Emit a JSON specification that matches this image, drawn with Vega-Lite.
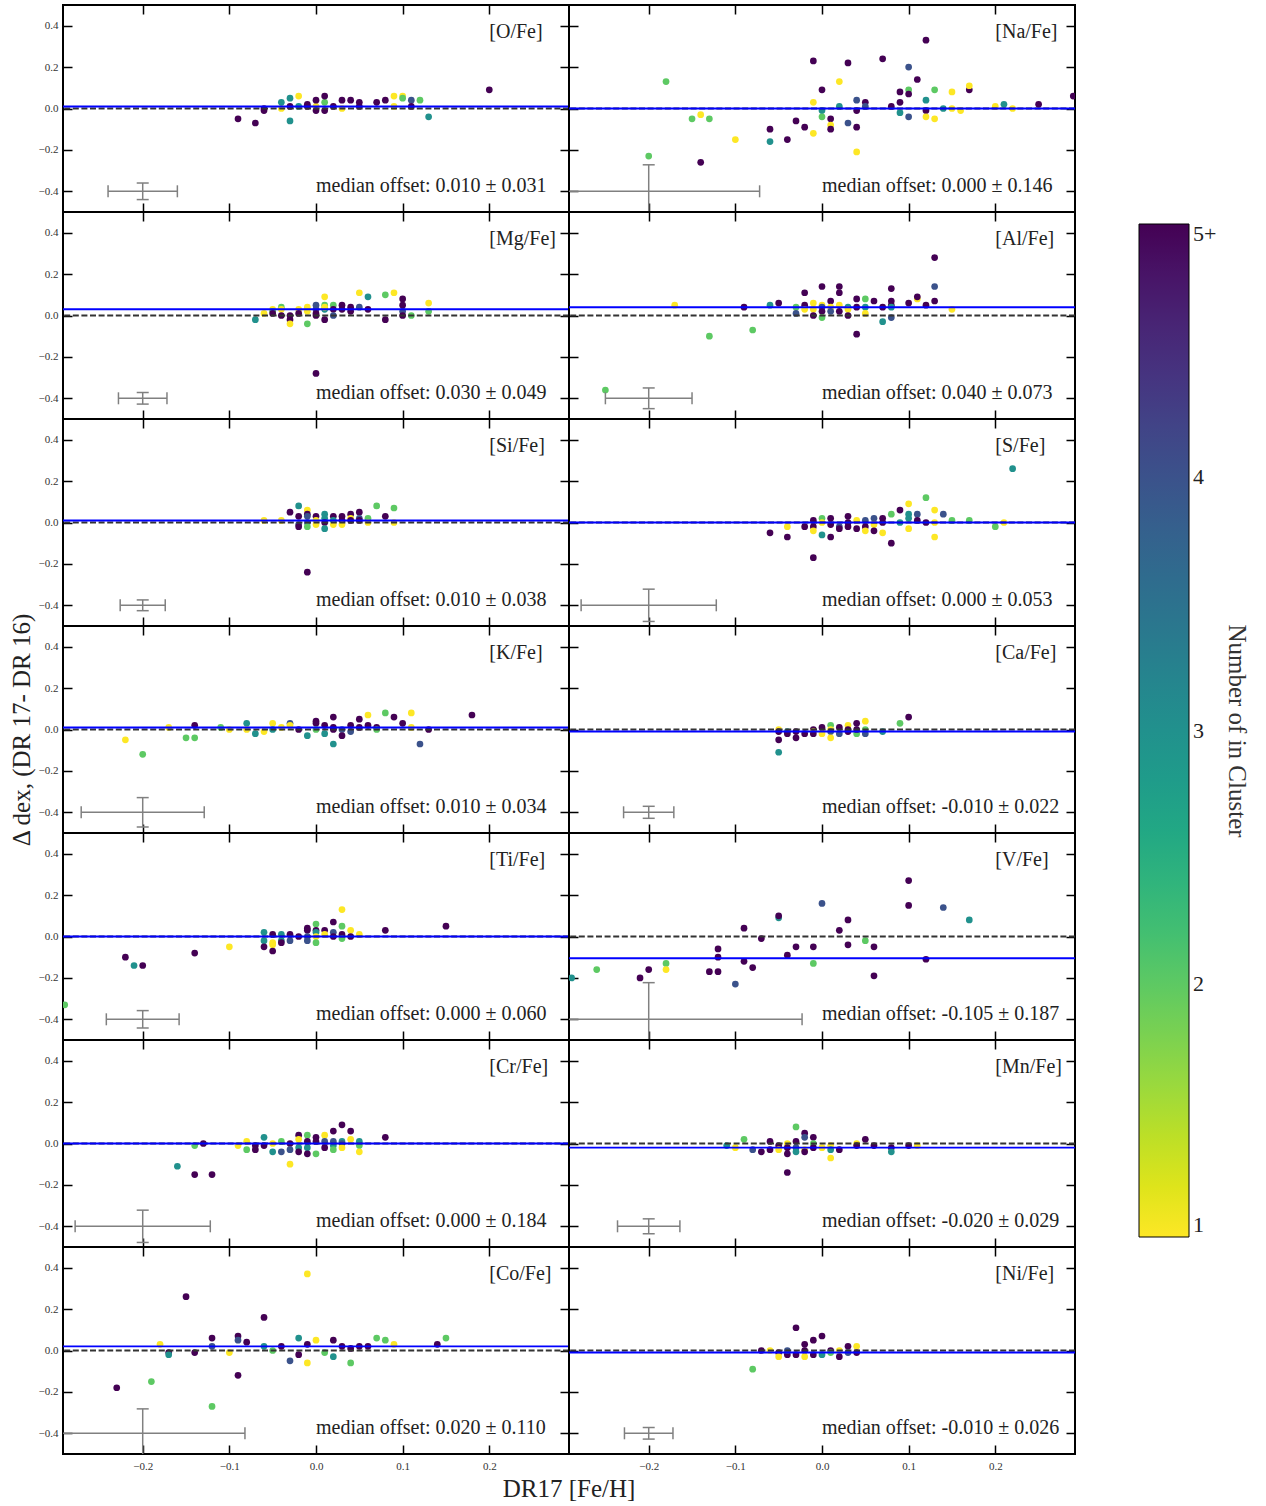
{
  "$schema": "https://vega.github.io/schema/vega-lite/v6.json",
  "padding": {"left": 9, "top": 4, "right": 0, "bottom": 0},
  "datasets": {
    "abund": [
      {"e":"O","lab":"[O/Fe]","med":0.010,"sd":0.031,"xlo":-0.24,"xhi":-0.16,"ylo":-0.44,"yhi":-0.36},
      {"e":"Na","lab":"[Na/Fe]","med":0.000,"sd":0.146,"xlo":-0.328,"xhi":-0.072,"ylo":-0.528,"yhi":-0.272},
      {"e":"Mg","lab":"[Mg/Fe]","med":0.030,"sd":0.049,"xlo":-0.228,"xhi":-0.172,"ylo":-0.428,"yhi":-0.372},
      {"e":"Al","lab":"[Al/Fe]","med":0.040,"sd":0.073,"xlo":-0.25,"xhi":-0.15,"ylo":-0.45,"yhi":-0.35},
      {"e":"Si","lab":"[Si/Fe]","med":0.010,"sd":0.038,"xlo":-0.226,"xhi":-0.174,"ylo":-0.426,"yhi":-0.374},
      {"e":"S","lab":"[S/Fe]","med":0.000,"sd":0.053,"xlo":-0.278,"xhi":-0.122,"ylo":-0.478,"yhi":-0.322},
      {"e":"K","lab":"[K/Fe]","med":0.010,"sd":0.034,"xlo":-0.271,"xhi":-0.129,"ylo":-0.471,"yhi":-0.329},
      {"e":"Ca","lab":"[Ca/Fe]","med":-0.010,"sd":0.022,"xlo":-0.229,"xhi":-0.171,"ylo":-0.429,"yhi":-0.371},
      {"e":"Ti","lab":"[Ti/Fe]","med":0.000,"sd":0.060,"xlo":-0.242,"xhi":-0.158,"ylo":-0.442,"yhi":-0.358},
      {"e":"V","lab":"[V/Fe]","med":-0.105,"sd":0.187,"xlo":-0.377,"xhi":-0.023,"ylo":-0.577,"yhi":-0.223},
      {"e":"Cr","lab":"[Cr/Fe]","med":0.000,"sd":0.184,"xlo":-0.278,"xhi":-0.122,"ylo":-0.478,"yhi":-0.322},
      {"e":"Mn","lab":"[Mn/Fe]","med":-0.020,"sd":0.029,"xlo":-0.236,"xhi":-0.164,"ylo":-0.436,"yhi":-0.364},
      {"e":"Co","lab":"[Co/Fe]","med":0.020,"sd":0.110,"xlo":-0.318,"xhi":-0.082,"ylo":-0.518,"yhi":-0.282},
      {"e":"Ni","lab":"[Ni/Fe]","med":-0.010,"sd":0.026,"xlo":-0.228,"xhi":-0.172,"ylo":-0.428,"yhi":-0.372},

      {"e":"O","x":-0.09,"y":-0.05,"n":5},{"e":"O","x":-0.07,"y":-0.07,"n":5},{"e":"O","x":-0.06,"y":-0.01,"n":5},{"e":"O","x":-0.06,"y":0.0,"n":5},
      {"e":"O","x":-0.04,"y":0.0,"n":1},{"e":"O","x":-0.04,"y":0.03,"n":3},{"e":"O","x":-0.03,"y":0.05,"n":3},{"e":"O","x":-0.03,"y":-0.06,"n":3},
      {"e":"O","x":-0.03,"y":0.01,"n":5},{"e":"O","x":-0.02,"y":0.06,"n":1},{"e":"O","x":-0.02,"y":0.01,"n":3},{"e":"O","x":-0.01,"y":0.01,"n":5},
      {"e":"O","x":-0.01,"y":0.02,"n":5},{"e":"O","x":0.0,"y":0.01,"n":1},{"e":"O","x":0.0,"y":0.04,"n":5},{"e":"O","x":0.0,"y":-0.01,"n":5},
      {"e":"O","x":0.01,"y":0.03,"n":2},{"e":"O","x":0.01,"y":0.06,"n":5},{"e":"O","x":0.01,"y":-0.01,"n":5},{"e":"O","x":0.02,"y":0.01,"n":5},
      {"e":"O","x":0.03,"y":0.0,"n":1},{"e":"O","x":0.03,"y":0.04,"n":5},{"e":"O","x":0.04,"y":0.04,"n":5},{"e":"O","x":0.05,"y":0.03,"n":5},
      {"e":"O","x":0.05,"y":0.01,"n":5},{"e":"O","x":0.07,"y":0.03,"n":5},{"e":"O","x":0.08,"y":0.04,"n":5},{"e":"O","x":0.09,"y":0.01,"n":1},
      {"e":"O","x":0.09,"y":0.06,"n":1},{"e":"O","x":0.1,"y":0.06,"n":1},{"e":"O","x":0.1,"y":0.05,"n":2},{"e":"O","x":0.11,"y":0.04,"n":4},
      {"e":"O","x":0.11,"y":0.01,"n":5},{"e":"O","x":0.12,"y":0.04,"n":2},{"e":"O","x":0.13,"y":-0.04,"n":3},{"e":"O","x":0.2,"y":0.09,"n":5},

      {"e":"Na","x":-0.18,"y":0.13,"n":2},{"e":"Na","x":-0.2,"y":-0.23,"n":2},{"e":"Na","x":-0.15,"y":-0.05,"n":2},{"e":"Na","x":-0.14,"y":-0.03,"n":1},
      {"e":"Na","x":-0.13,"y":-0.05,"n":2},{"e":"Na","x":-0.14,"y":-0.26,"n":5},{"e":"Na","x":-0.1,"y":-0.15,"n":1},{"e":"Na","x":-0.06,"y":-0.10,"n":5},
      {"e":"Na","x":-0.06,"y":-0.16,"n":3},{"e":"Na","x":-0.04,"y":-0.15,"n":5},{"e":"Na","x":-0.03,"y":-0.06,"n":5},{"e":"Na","x":-0.02,"y":-0.09,"n":5},
      {"e":"Na","x":-0.01,"y":0.23,"n":5},{"e":"Na","x":-0.01,"y":0.03,"n":1},{"e":"Na","x":-0.01,"y":-0.12,"n":1},{"e":"Na","x":0.0,"y":0.09,"n":5},
      {"e":"Na","x":0.0,"y":-0.01,"n":3},{"e":"Na","x":0.0,"y":-0.04,"n":2},{"e":"Na","x":0.01,"y":-0.05,"n":5},{"e":"Na","x":0.01,"y":-0.08,"n":1},
      {"e":"Na","x":0.01,"y":-0.10,"n":5},{"e":"Na","x":0.02,"y":0.13,"n":1},{"e":"Na","x":0.02,"y":0.01,"n":3},{"e":"Na","x":0.03,"y":0.22,"n":5},
      {"e":"Na","x":0.03,"y":-0.07,"n":4},{"e":"Na","x":0.04,"y":0.04,"n":4},{"e":"Na","x":0.04,"y":-0.01,"n":5},{"e":"Na","x":0.04,"y":-0.09,"n":5},
      {"e":"Na","x":0.04,"y":-0.21,"n":1},{"e":"Na","x":0.05,"y":0.03,"n":5},{"e":"Na","x":0.05,"y":0.01,"n":4},{"e":"Na","x":0.07,"y":0.24,"n":5},
      {"e":"Na","x":0.08,"y":0.01,"n":5},{"e":"Na","x":0.09,"y":0.08,"n":5},{"e":"Na","x":0.09,"y":0.03,"n":5},{"e":"Na","x":0.09,"y":-0.02,"n":3},
      {"e":"Na","x":0.1,"y":0.2,"n":4},{"e":"Na","x":0.1,"y":0.09,"n":2},{"e":"Na","x":0.1,"y":0.07,"n":5},{"e":"Na","x":0.1,"y":-0.04,"n":4},
      {"e":"Na","x":0.11,"y":0.14,"n":5},{"e":"Na","x":0.12,"y":0.33,"n":5},{"e":"Na","x":0.12,"y":0.04,"n":3},{"e":"Na","x":0.12,"y":-0.01,"n":5},
      {"e":"Na","x":0.12,"y":-0.04,"n":1},{"e":"Na","x":0.13,"y":0.09,"n":2},{"e":"Na","x":0.13,"y":-0.05,"n":1},{"e":"Na","x":0.14,"y":0.0,"n":3},
      {"e":"Na","x":0.15,"y":0.08,"n":1},{"e":"Na","x":0.15,"y":0.0,"n":1},{"e":"Na","x":0.16,"y":-0.01,"n":1},{"e":"Na","x":0.17,"y":0.09,"n":5},
      {"e":"Na","x":0.17,"y":0.11,"n":1},{"e":"Na","x":0.2,"y":0.01,"n":1},{"e":"Na","x":0.21,"y":0.02,"n":3},{"e":"Na","x":0.22,"y":0.0,"n":1},
      {"e":"Na","x":0.25,"y":0.02,"n":5},{"e":"Na","x":0.29,"y":0.06,"n":5},

      {"e":"Mg","x":-0.07,"y":-0.02,"n":3},{"e":"Mg","x":-0.06,"y":0.01,"n":1},{"e":"Mg","x":-0.05,"y":0.03,"n":1},{"e":"Mg","x":-0.05,"y":0.02,"n":2},
      {"e":"Mg","x":-0.05,"y":0.01,"n":5},{"e":"Mg","x":-0.04,"y":0.04,"n":2},{"e":"Mg","x":-0.04,"y":0.03,"n":1},{"e":"Mg","x":-0.04,"y":0.0,"n":5},
      {"e":"Mg","x":-0.03,"y":0.0,"n":5},{"e":"Mg","x":-0.03,"y":-0.02,"n":5},{"e":"Mg","x":-0.03,"y":-0.04,"n":1},{"e":"Mg","x":-0.02,"y":0.03,"n":1},
      {"e":"Mg","x":-0.02,"y":0.01,"n":5},{"e":"Mg","x":-0.01,"y":0.04,"n":1},{"e":"Mg","x":-0.01,"y":0.02,"n":1},{"e":"Mg","x":-0.01,"y":-0.04,"n":2},
      {"e":"Mg","x":0.0,"y":0.05,"n":4},{"e":"Mg","x":0.0,"y":0.03,"n":4},{"e":"Mg","x":0.0,"y":0.01,"n":5},{"e":"Mg","x":0.0,"y":0.0,"n":5},
      {"e":"Mg","x":0.0,"y":-0.28,"n":5},{"e":"Mg","x":0.01,"y":0.09,"n":1},{"e":"Mg","x":0.01,"y":0.05,"n":2},{"e":"Mg","x":0.01,"y":0.03,"n":3},
      {"e":"Mg","x":0.01,"y":0.04,"n":1},{"e":"Mg","x":0.01,"y":-0.02,"n":5},{"e":"Mg","x":0.02,"y":0.05,"n":2},{"e":"Mg","x":0.02,"y":0.03,"n":5},
      {"e":"Mg","x":0.02,"y":0.0,"n":4},{"e":"Mg","x":0.03,"y":0.05,"n":5},{"e":"Mg","x":0.03,"y":0.03,"n":5},{"e":"Mg","x":0.04,"y":0.04,"n":5},
      {"e":"Mg","x":0.04,"y":0.02,"n":5},{"e":"Mg","x":0.05,"y":0.11,"n":1},{"e":"Mg","x":0.05,"y":0.04,"n":4},{"e":"Mg","x":0.06,"y":0.09,"n":3},
      {"e":"Mg","x":0.06,"y":0.03,"n":5},{"e":"Mg","x":0.08,"y":0.1,"n":2},{"e":"Mg","x":0.08,"y":-0.02,"n":5},{"e":"Mg","x":0.09,"y":0.11,"n":1},
      {"e":"Mg","x":0.1,"y":0.02,"n":4},{"e":"Mg","x":0.1,"y":0.08,"n":5},{"e":"Mg","x":0.1,"y":0.05,"n":5},{"e":"Mg","x":0.1,"y":0.0,"n":5},
      {"e":"Mg","x":0.11,"y":0.0,"n":2},{"e":"Mg","x":0.13,"y":0.06,"n":1},{"e":"Mg","x":0.13,"y":0.02,"n":2},

      {"e":"Al","x":-0.25,"y":-0.36,"n":2},{"e":"Al","x":-0.17,"y":0.05,"n":1},{"e":"Al","x":-0.13,"y":-0.10,"n":2},{"e":"Al","x":-0.09,"y":0.04,"n":5},
      {"e":"Al","x":-0.08,"y":-0.07,"n":2},{"e":"Al","x":-0.06,"y":0.05,"n":3},{"e":"Al","x":-0.05,"y":0.06,"n":5},{"e":"Al","x":-0.03,"y":0.04,"n":2},
      {"e":"Al","x":-0.03,"y":0.01,"n":4},{"e":"Al","x":-0.02,"y":0.11,"n":5},{"e":"Al","x":-0.02,"y":0.05,"n":5},{"e":"Al","x":-0.02,"y":0.03,"n":1},
      {"e":"Al","x":-0.01,"y":0.06,"n":1},{"e":"Al","x":-0.01,"y":0.03,"n":1},{"e":"Al","x":-0.01,"y":0.0,"n":5},{"e":"Al","x":0.0,"y":0.14,"n":5},
      {"e":"Al","x":0.0,"y":0.05,"n":1},{"e":"Al","x":0.0,"y":0.04,"n":4},{"e":"Al","x":0.0,"y":0.02,"n":5},{"e":"Al","x":0.0,"y":-0.01,"n":2},
      {"e":"Al","x":0.01,"y":0.07,"n":5},{"e":"Al","x":0.01,"y":0.04,"n":1},{"e":"Al","x":0.01,"y":0.02,"n":4},{"e":"Al","x":0.02,"y":0.14,"n":5},
      {"e":"Al","x":0.02,"y":0.11,"n":5},{"e":"Al","x":0.02,"y":0.05,"n":1},{"e":"Al","x":0.02,"y":0.02,"n":5},{"e":"Al","x":0.03,"y":0.04,"n":3},
      {"e":"Al","x":0.03,"y":0.03,"n":1},{"e":"Al","x":0.03,"y":0.0,"n":5},{"e":"Al","x":0.04,"y":0.08,"n":5},{"e":"Al","x":0.04,"y":0.04,"n":5},
      {"e":"Al","x":0.04,"y":-0.09,"n":5},{"e":"Al","x":0.05,"y":0.08,"n":2},{"e":"Al","x":0.05,"y":0.04,"n":3},{"e":"Al","x":0.05,"y":0.01,"n":1},
      {"e":"Al","x":0.06,"y":0.07,"n":5},{"e":"Al","x":0.07,"y":0.04,"n":5},{"e":"Al","x":0.07,"y":-0.03,"n":3},{"e":"Al","x":0.08,"y":0.13,"n":5},
      {"e":"Al","x":0.08,"y":0.07,"n":5},{"e":"Al","x":0.08,"y":0.05,"n":5},{"e":"Al","x":0.08,"y":0.04,"n":3},{"e":"Al","x":0.08,"y":-0.01,"n":4},
      {"e":"Al","x":0.1,"y":0.06,"n":5},{"e":"Al","x":0.11,"y":0.08,"n":1},{"e":"Al","x":0.11,"y":0.09,"n":5},{"e":"Al","x":0.12,"y":0.05,"n":5},
      {"e":"Al","x":0.13,"y":0.28,"n":5},{"e":"Al","x":0.13,"y":0.14,"n":4},{"e":"Al","x":0.13,"y":0.07,"n":5},{"e":"Al","x":0.15,"y":0.03,"n":1},

      {"e":"Si","x":-0.06,"y":0.01,"n":1},{"e":"Si","x":-0.04,"y":0.01,"n":1},{"e":"Si","x":-0.03,"y":0.05,"n":5},{"e":"Si","x":-0.02,"y":0.08,"n":3},
      {"e":"Si","x":-0.02,"y":0.03,"n":5},{"e":"Si","x":-0.02,"y":-0.01,"n":4},{"e":"Si","x":-0.02,"y":-0.02,"n":5},{"e":"Si","x":-0.01,"y":0.06,"n":1},
      {"e":"Si","x":-0.01,"y":0.04,"n":5},{"e":"Si","x":-0.01,"y":0.03,"n":4},{"e":"Si","x":-0.01,"y":0.0,"n":4},{"e":"Si","x":-0.01,"y":-0.02,"n":2},
      {"e":"Si","x":-0.01,"y":-0.24,"n":5},{"e":"Si","x":0.0,"y":0.03,"n":5},{"e":"Si","x":0.0,"y":0.01,"n":1},{"e":"Si","x":0.0,"y":-0.01,"n":1},
      {"e":"Si","x":0.01,"y":0.04,"n":3},{"e":"Si","x":0.01,"y":0.02,"n":3},{"e":"Si","x":0.01,"y":0.0,"n":5},{"e":"Si","x":0.01,"y":-0.03,"n":3},
      {"e":"Si","x":0.02,"y":0.03,"n":5},{"e":"Si","x":0.02,"y":0.01,"n":3},{"e":"Si","x":0.02,"y":-0.01,"n":1},{"e":"Si","x":0.03,"y":0.03,"n":5},
      {"e":"Si","x":0.03,"y":0.01,"n":5},{"e":"Si","x":0.03,"y":-0.01,"n":1},{"e":"Si","x":0.04,"y":0.04,"n":5},{"e":"Si","x":0.04,"y":0.02,"n":1},
      {"e":"Si","x":0.04,"y":0.01,"n":5},{"e":"Si","x":0.05,"y":0.05,"n":5},{"e":"Si","x":0.05,"y":0.02,"n":4},{"e":"Si","x":0.05,"y":0.01,"n":5},
      {"e":"Si","x":0.06,"y":0.02,"n":2},{"e":"Si","x":0.06,"y":0.0,"n":1},{"e":"Si","x":0.07,"y":0.08,"n":2},{"e":"Si","x":0.08,"y":0.03,"n":5},
      {"e":"Si","x":0.09,"y":0.07,"n":2},{"e":"Si","x":0.09,"y":0.0,"n":1},

      {"e":"S","x":-0.06,"y":-0.05,"n":5},{"e":"S","x":-0.04,"y":-0.02,"n":1},{"e":"S","x":-0.04,"y":-0.07,"n":5},{"e":"S","x":-0.02,"y":-0.02,"n":5},
      {"e":"S","x":-0.01,"y":0.01,"n":5},{"e":"S","x":-0.01,"y":-0.02,"n":5},{"e":"S","x":-0.01,"y":-0.04,"n":1},{"e":"S","x":-0.01,"y":-0.17,"n":5},
      {"e":"S","x":0.0,"y":0.02,"n":2},{"e":"S","x":0.0,"y":0.0,"n":1},{"e":"S","x":0.0,"y":-0.06,"n":3},{"e":"S","x":0.01,"y":0.02,"n":5},
      {"e":"S","x":0.01,"y":-0.01,"n":5},{"e":"S","x":0.01,"y":-0.07,"n":5},{"e":"S","x":0.02,"y":-0.02,"n":4},{"e":"S","x":0.02,"y":-0.03,"n":5},
      {"e":"S","x":0.03,"y":0.03,"n":5},{"e":"S","x":0.03,"y":0.0,"n":5},{"e":"S","x":0.03,"y":-0.02,"n":5},{"e":"S","x":0.04,"y":0.01,"n":1},
      {"e":"S","x":0.04,"y":-0.03,"n":5},{"e":"S","x":0.05,"y":0.01,"n":4},{"e":"S","x":0.05,"y":-0.02,"n":5},{"e":"S","x":0.05,"y":-0.04,"n":1},
      {"e":"S","x":0.06,"y":0.02,"n":4},{"e":"S","x":0.06,"y":-0.01,"n":1},{"e":"S","x":0.06,"y":-0.04,"n":5},{"e":"S","x":0.07,"y":0.02,"n":5},
      {"e":"S","x":0.07,"y":0.0,"n":5},{"e":"S","x":0.07,"y":-0.05,"n":1},{"e":"S","x":0.08,"y":0.04,"n":2},{"e":"S","x":0.08,"y":-0.1,"n":5},
      {"e":"S","x":0.09,"y":0.06,"n":5},{"e":"S","x":0.09,"y":0.0,"n":3},{"e":"S","x":0.1,"y":0.09,"n":1},{"e":"S","x":0.1,"y":0.04,"n":3},
      {"e":"S","x":0.1,"y":0.02,"n":3},{"e":"S","x":0.1,"y":-0.03,"n":1},{"e":"S","x":0.11,"y":0.04,"n":4},{"e":"S","x":0.11,"y":0.01,"n":5},
      {"e":"S","x":0.12,"y":0.12,"n":2},{"e":"S","x":0.12,"y":0.0,"n":5},{"e":"S","x":0.13,"y":0.06,"n":1},{"e":"S","x":0.13,"y":0.0,"n":1},
      {"e":"S","x":0.13,"y":-0.07,"n":1},{"e":"S","x":0.14,"y":0.04,"n":4},{"e":"S","x":0.15,"y":0.01,"n":2},{"e":"S","x":0.17,"y":0.01,"n":2},
      {"e":"S","x":0.2,"y":-0.02,"n":2},{"e":"S","x":0.21,"y":0.0,"n":1},{"e":"S","x":0.22,"y":0.26,"n":3},

      {"e":"K","x":-0.22,"y":-0.05,"n":1},{"e":"K","x":-0.2,"y":-0.12,"n":2},{"e":"K","x":-0.17,"y":0.01,"n":1},{"e":"K","x":-0.15,"y":-0.04,"n":2},
      {"e":"K","x":-0.14,"y":-0.04,"n":2},{"e":"K","x":-0.14,"y":0.02,"n":5},{"e":"K","x":-0.11,"y":0.01,"n":2},{"e":"K","x":-0.1,"y":0.0,"n":1},
      {"e":"K","x":-0.08,"y":0.03,"n":3},{"e":"K","x":-0.08,"y":0.0,"n":1},{"e":"K","x":-0.07,"y":-0.02,"n":3},{"e":"K","x":-0.06,"y":-0.01,"n":1},
      {"e":"K","x":-0.05,"y":0.03,"n":1},{"e":"K","x":-0.05,"y":0.0,"n":3},{"e":"K","x":-0.04,"y":0.01,"n":1},{"e":"K","x":-0.03,"y":0.03,"n":4},
      {"e":"K","x":-0.03,"y":0.02,"n":1},{"e":"K","x":-0.02,"y":0.0,"n":5},{"e":"K","x":-0.01,"y":-0.03,"n":3},{"e":"K","x":0.0,"y":0.04,"n":5},
      {"e":"K","x":0.0,"y":0.03,"n":5},{"e":"K","x":0.0,"y":0.0,"n":2},{"e":"K","x":0.01,"y":0.02,"n":5},{"e":"K","x":0.01,"y":-0.02,"n":3},
      {"e":"K","x":0.02,"y":0.06,"n":5},{"e":"K","x":0.02,"y":0.01,"n":5},{"e":"K","x":0.02,"y":0.0,"n":5},{"e":"K","x":0.02,"y":-0.07,"n":3},
      {"e":"K","x":0.03,"y":0.0,"n":4},{"e":"K","x":0.03,"y":-0.03,"n":5},{"e":"K","x":0.04,"y":0.02,"n":5},{"e":"K","x":0.04,"y":-0.01,"n":4},
      {"e":"K","x":0.05,"y":0.05,"n":5},{"e":"K","x":0.05,"y":0.01,"n":5},{"e":"K","x":0.06,"y":0.07,"n":1},{"e":"K","x":0.06,"y":0.02,"n":5},
      {"e":"K","x":0.07,"y":0.01,"n":5},{"e":"K","x":0.07,"y":0.0,"n":2},{"e":"K","x":0.08,"y":0.08,"n":2},{"e":"K","x":0.09,"y":0.06,"n":5},
      {"e":"K","x":0.1,"y":0.03,"n":5},{"e":"K","x":0.11,"y":0.08,"n":1},{"e":"K","x":0.11,"y":0.01,"n":1},{"e":"K","x":0.12,"y":-0.07,"n":4},
      {"e":"K","x":0.13,"y":0.0,"n":5},{"e":"K","x":0.18,"y":0.07,"n":5},

      {"e":"Ca","x":-0.05,"y":0.0,"n":1},{"e":"Ca","x":-0.05,"y":-0.01,"n":5},{"e":"Ca","x":-0.05,"y":-0.05,"n":5},{"e":"Ca","x":-0.05,"y":-0.11,"n":3},
      {"e":"Ca","x":-0.04,"y":-0.01,"n":3},{"e":"Ca","x":-0.04,"y":-0.02,"n":5},{"e":"Ca","x":-0.03,"y":-0.01,"n":5},{"e":"Ca","x":-0.03,"y":-0.04,"n":5},
      {"e":"Ca","x":-0.02,"y":-0.02,"n":5},{"e":"Ca","x":-0.01,"y":0.0,"n":5},{"e":"Ca","x":-0.01,"y":-0.01,"n":1},{"e":"Ca","x":-0.01,"y":-0.02,"n":5},
      {"e":"Ca","x":0.0,"y":0.01,"n":5},{"e":"Ca","x":0.0,"y":-0.02,"n":1},{"e":"Ca","x":0.01,"y":0.02,"n":2},{"e":"Ca","x":0.01,"y":0.0,"n":1},
      {"e":"Ca","x":0.01,"y":-0.01,"n":4},{"e":"Ca","x":0.01,"y":-0.04,"n":1},{"e":"Ca","x":0.02,"y":0.01,"n":5},{"e":"Ca","x":0.02,"y":-0.02,"n":4},
      {"e":"Ca","x":0.03,"y":0.02,"n":1},{"e":"Ca","x":0.03,"y":0.0,"n":5},{"e":"Ca","x":0.03,"y":-0.01,"n":5},{"e":"Ca","x":0.04,"y":0.03,"n":5},
      {"e":"Ca","x":0.04,"y":-0.02,"n":2},{"e":"Ca","x":0.04,"y":0.0,"n":5},{"e":"Ca","x":0.05,"y":0.04,"n":1},{"e":"Ca","x":0.05,"y":0.0,"n":2},
      {"e":"Ca","x":0.05,"y":-0.02,"n":4},{"e":"Ca","x":0.07,"y":-0.01,"n":3},{"e":"Ca","x":0.09,"y":0.03,"n":2},{"e":"Ca","x":0.1,"y":0.06,"n":5},

      {"e":"Ti","x":-0.29,"y":-0.33,"n":2},{"e":"Ti","x":-0.22,"y":-0.1,"n":5},{"e":"Ti","x":-0.21,"y":-0.14,"n":3},{"e":"Ti","x":-0.2,"y":-0.14,"n":5},
      {"e":"Ti","x":-0.14,"y":-0.08,"n":5},{"e":"Ti","x":-0.1,"y":-0.05,"n":1},{"e":"Ti","x":-0.06,"y":0.02,"n":3},{"e":"Ti","x":-0.06,"y":-0.02,"n":3},
      {"e":"Ti","x":-0.06,"y":-0.05,"n":5},{"e":"Ti","x":-0.05,"y":0.01,"n":5},{"e":"Ti","x":-0.05,"y":-0.03,"n":1},{"e":"Ti","x":-0.05,"y":-0.04,"n":1},
      {"e":"Ti","x":-0.05,"y":-0.07,"n":5},{"e":"Ti","x":-0.04,"y":0.01,"n":3},{"e":"Ti","x":-0.04,"y":-0.02,"n":3},{"e":"Ti","x":-0.04,"y":-0.03,"n":5},
      {"e":"Ti","x":-0.03,"y":0.01,"n":5},{"e":"Ti","x":-0.03,"y":-0.02,"n":4},{"e":"Ti","x":-0.02,"y":0.0,"n":5},{"e":"Ti","x":-0.01,"y":0.04,"n":5},
      {"e":"Ti","x":-0.01,"y":0.03,"n":5},{"e":"Ti","x":-0.01,"y":0.0,"n":4},{"e":"Ti","x":-0.01,"y":-0.02,"n":4},{"e":"Ti","x":0.0,"y":0.06,"n":2},
      {"e":"Ti","x":0.0,"y":0.03,"n":5},{"e":"Ti","x":0.0,"y":0.02,"n":3},{"e":"Ti","x":0.0,"y":0.0,"n":1},{"e":"Ti","x":0.0,"y":-0.03,"n":2},
      {"e":"Ti","x":0.01,"y":0.03,"n":5},{"e":"Ti","x":0.01,"y":0.01,"n":1},{"e":"Ti","x":0.02,"y":0.07,"n":5},{"e":"Ti","x":0.02,"y":0.02,"n":4},
      {"e":"Ti","x":0.02,"y":0.0,"n":5},{"e":"Ti","x":0.03,"y":0.13,"n":1},{"e":"Ti","x":0.03,"y":0.05,"n":2},{"e":"Ti","x":0.03,"y":0.01,"n":5},
      {"e":"Ti","x":0.03,"y":-0.01,"n":2},{"e":"Ti","x":0.04,"y":0.03,"n":1},{"e":"Ti","x":0.04,"y":0.0,"n":5},{"e":"Ti","x":0.05,"y":0.01,"n":1},
      {"e":"Ti","x":0.08,"y":0.03,"n":5},{"e":"Ti","x":0.15,"y":0.05,"n":5},

      {"e":"V","x":-0.289,"y":-0.2,"n":3},{"e":"V","x":-0.26,"y":-0.16,"n":2},{"e":"V","x":-0.21,"y":-0.2,"n":5},{"e":"V","x":-0.2,"y":-0.16,"n":5},
      {"e":"V","x":-0.18,"y":-0.13,"n":2},{"e":"V","x":-0.18,"y":-0.16,"n":1},{"e":"V","x":-0.13,"y":-0.17,"n":5},{"e":"V","x":-0.12,"y":-0.17,"n":5},
      {"e":"V","x":-0.12,"y":-0.06,"n":5},{"e":"V","x":-0.12,"y":-0.1,"n":5},{"e":"V","x":-0.1,"y":-0.23,"n":4},{"e":"V","x":-0.09,"y":0.04,"n":5},
      {"e":"V","x":-0.09,"y":-0.12,"n":5},{"e":"V","x":-0.08,"y":-0.15,"n":5},{"e":"V","x":-0.07,"y":-0.01,"n":5},{"e":"V","x":-0.05,"y":0.09,"n":3},
      {"e":"V","x":-0.05,"y":0.1,"n":5},{"e":"V","x":-0.04,"y":-0.09,"n":5},{"e":"V","x":-0.03,"y":-0.05,"n":5},{"e":"V","x":-0.01,"y":-0.05,"n":5},
      {"e":"V","x":-0.01,"y":-0.13,"n":2},{"e":"V","x":0.0,"y":0.16,"n":4},{"e":"V","x":0.02,"y":0.03,"n":5},{"e":"V","x":0.03,"y":0.08,"n":5},
      {"e":"V","x":0.03,"y":-0.04,"n":5},{"e":"V","x":0.05,"y":-0.02,"n":2},{"e":"V","x":0.06,"y":-0.05,"n":5},{"e":"V","x":0.06,"y":-0.19,"n":5},
      {"e":"V","x":0.1,"y":0.27,"n":5},{"e":"V","x":0.1,"y":0.15,"n":5},{"e":"V","x":0.12,"y":-0.11,"n":5},{"e":"V","x":0.14,"y":0.14,"n":4},
      {"e":"V","x":0.17,"y":0.08,"n":3},

      {"e":"Cr","x":-0.16,"y":-0.11,"n":3},{"e":"Cr","x":-0.14,"y":-0.01,"n":2},{"e":"Cr","x":-0.14,"y":-0.15,"n":5},{"e":"Cr","x":-0.13,"y":0.0,"n":5},
      {"e":"Cr","x":-0.12,"y":-0.15,"n":5},{"e":"Cr","x":-0.09,"y":-0.01,"n":1},{"e":"Cr","x":-0.08,"y":0.01,"n":1},{"e":"Cr","x":-0.08,"y":-0.03,"n":2},
      {"e":"Cr","x":-0.07,"y":-0.01,"n":5},{"e":"Cr","x":-0.07,"y":-0.03,"n":5},{"e":"Cr","x":-0.06,"y":0.03,"n":3},{"e":"Cr","x":-0.06,"y":-0.01,"n":5},
      {"e":"Cr","x":-0.05,"y":0.0,"n":1},{"e":"Cr","x":-0.05,"y":-0.04,"n":3},{"e":"Cr","x":-0.04,"y":0.01,"n":2},{"e":"Cr","x":-0.04,"y":-0.04,"n":4},
      {"e":"Cr","x":-0.03,"y":0.0,"n":5},{"e":"Cr","x":-0.03,"y":-0.03,"n":4},{"e":"Cr","x":-0.03,"y":-0.1,"n":1},{"e":"Cr","x":-0.02,"y":0.04,"n":5},
      {"e":"Cr","x":-0.02,"y":0.02,"n":1},{"e":"Cr","x":-0.02,"y":-0.02,"n":3},{"e":"Cr","x":-0.02,"y":-0.04,"n":5},{"e":"Cr","x":-0.01,"y":0.04,"n":2},
      {"e":"Cr","x":-0.01,"y":0.01,"n":5},{"e":"Cr","x":-0.01,"y":-0.02,"n":3},{"e":"Cr","x":-0.01,"y":-0.05,"n":5},{"e":"Cr","x":0.0,"y":0.03,"n":5},
      {"e":"Cr","x":0.0,"y":0.01,"n":5},{"e":"Cr","x":0.0,"y":-0.05,"n":2},{"e":"Cr","x":0.01,"y":0.04,"n":1},{"e":"Cr","x":0.01,"y":0.01,"n":4},
      {"e":"Cr","x":0.01,"y":-0.02,"n":5},{"e":"Cr","x":0.02,"y":0.06,"n":5},{"e":"Cr","x":0.02,"y":0.01,"n":4},{"e":"Cr","x":0.02,"y":-0.01,"n":3},
      {"e":"Cr","x":0.02,"y":-0.03,"n":2},{"e":"Cr","x":0.03,"y":0.09,"n":5},{"e":"Cr","x":0.03,"y":0.01,"n":3},{"e":"Cr","x":0.03,"y":0.0,"n":4},
      {"e":"Cr","x":0.03,"y":-0.02,"n":1},{"e":"Cr","x":0.04,"y":0.06,"n":5},{"e":"Cr","x":0.04,"y":0.02,"n":1},{"e":"Cr","x":0.05,"y":0.01,"n":3},
      {"e":"Cr","x":0.05,"y":-0.01,"n":2},{"e":"Cr","x":0.05,"y":-0.04,"n":1},{"e":"Cr","x":0.08,"y":0.03,"n":5},

      {"e":"Mn","x":-0.11,"y":-0.01,"n":3},{"e":"Mn","x":-0.1,"y":-0.02,"n":1},{"e":"Mn","x":-0.09,"y":0.02,"n":2},{"e":"Mn","x":-0.08,"y":-0.03,"n":4},
      {"e":"Mn","x":-0.07,"y":-0.04,"n":5},{"e":"Mn","x":-0.06,"y":0.01,"n":5},{"e":"Mn","x":-0.06,"y":-0.03,"n":5},{"e":"Mn","x":-0.05,"y":-0.01,"n":5},
      {"e":"Mn","x":-0.05,"y":-0.03,"n":1},{"e":"Mn","x":-0.04,"y":0.0,"n":1},{"e":"Mn","x":-0.04,"y":-0.02,"n":5},{"e":"Mn","x":-0.04,"y":-0.05,"n":5},
      {"e":"Mn","x":-0.04,"y":-0.14,"n":5},{"e":"Mn","x":-0.03,"y":0.08,"n":2},{"e":"Mn","x":-0.03,"y":0.01,"n":5},{"e":"Mn","x":-0.03,"y":-0.02,"n":4},
      {"e":"Mn","x":-0.03,"y":-0.04,"n":3},{"e":"Mn","x":-0.02,"y":0.05,"n":5},{"e":"Mn","x":-0.02,"y":0.03,"n":4},{"e":"Mn","x":-0.02,"y":-0.03,"n":1},
      {"e":"Mn","x":-0.02,"y":-0.04,"n":5},{"e":"Mn","x":-0.01,"y":0.03,"n":5},{"e":"Mn","x":-0.01,"y":0.0,"n":2},{"e":"Mn","x":-0.01,"y":-0.02,"n":5},
      {"e":"Mn","x":0.0,"y":-0.02,"n":1},{"e":"Mn","x":0.01,"y":-0.01,"n":1},{"e":"Mn","x":0.01,"y":-0.03,"n":3},{"e":"Mn","x":0.01,"y":-0.07,"n":1},
      {"e":"Mn","x":0.02,"y":-0.03,"n":5},{"e":"Mn","x":0.04,"y":0.0,"n":1},{"e":"Mn","x":0.04,"y":-0.01,"n":5},{"e":"Mn","x":0.05,"y":0.02,"n":5},
      {"e":"Mn","x":0.06,"y":-0.01,"n":5},{"e":"Mn","x":0.08,"y":-0.02,"n":5},{"e":"Mn","x":0.08,"y":-0.04,"n":3},{"e":"Mn","x":0.1,"y":-0.01,"n":5},
      {"e":"Mn","x":0.11,"y":-0.01,"n":1},

      {"e":"Co","x":-0.23,"y":-0.18,"n":5},{"e":"Co","x":-0.19,"y":-0.15,"n":2},{"e":"Co","x":-0.18,"y":0.03,"n":1},{"e":"Co","x":-0.17,"y":-0.01,"n":5},
      {"e":"Co","x":-0.17,"y":-0.02,"n":3},{"e":"Co","x":-0.15,"y":0.26,"n":5},{"e":"Co","x":-0.14,"y":-0.01,"n":5},{"e":"Co","x":-0.12,"y":-0.27,"n":2},
      {"e":"Co","x":-0.12,"y":0.06,"n":5},{"e":"Co","x":-0.12,"y":0.02,"n":4},{"e":"Co","x":-0.1,"y":-0.01,"n":1},{"e":"Co","x":-0.09,"y":0.07,"n":5},
      {"e":"Co","x":-0.09,"y":0.05,"n":4},{"e":"Co","x":-0.09,"y":-0.12,"n":5},{"e":"Co","x":-0.08,"y":0.04,"n":5},{"e":"Co","x":-0.06,"y":0.16,"n":5},
      {"e":"Co","x":-0.06,"y":0.02,"n":3},{"e":"Co","x":-0.05,"y":0.0,"n":2},{"e":"Co","x":-0.04,"y":0.02,"n":5},{"e":"Co","x":-0.03,"y":-0.05,"n":4},
      {"e":"Co","x":-0.02,"y":0.06,"n":3},{"e":"Co","x":-0.02,"y":-0.02,"n":5},{"e":"Co","x":-0.01,"y":0.37,"n":1},{"e":"Co","x":-0.01,"y":-0.06,"n":1},
      {"e":"Co","x":-0.01,"y":0.03,"n":5},{"e":"Co","x":0.0,"y":0.05,"n":1},{"e":"Co","x":0.01,"y":-0.01,"n":2},{"e":"Co","x":0.02,"y":0.05,"n":5},
      {"e":"Co","x":0.02,"y":-0.03,"n":3},{"e":"Co","x":0.03,"y":0.02,"n":5},{"e":"Co","x":0.04,"y":-0.06,"n":2},{"e":"Co","x":0.04,"y":0.01,"n":5},
      {"e":"Co","x":0.05,"y":0.02,"n":5},{"e":"Co","x":0.06,"y":0.02,"n":5},{"e":"Co","x":0.07,"y":0.06,"n":2},{"e":"Co","x":0.08,"y":0.05,"n":2},
      {"e":"Co","x":0.09,"y":0.03,"n":1},{"e":"Co","x":0.14,"y":0.03,"n":5},{"e":"Co","x":0.15,"y":0.06,"n":2},

      {"e":"Ni","x":-0.08,"y":-0.09,"n":2},{"e":"Ni","x":-0.07,"y":0.0,"n":5},{"e":"Ni","x":-0.06,"y":0.0,"n":1},{"e":"Ni","x":-0.05,"y":-0.01,"n":5},
      {"e":"Ni","x":-0.05,"y":-0.03,"n":1},{"e":"Ni","x":-0.04,"y":-0.02,"n":5},{"e":"Ni","x":-0.04,"y":0.0,"n":4},{"e":"Ni","x":-0.03,"y":-0.02,"n":5},
      {"e":"Ni","x":-0.03,"y":0.11,"n":5},{"e":"Ni","x":-0.02,"y":0.03,"n":5},{"e":"Ni","x":-0.02,"y":0.0,"n":5},{"e":"Ni","x":-0.02,"y":-0.03,"n":1},
      {"e":"Ni","x":-0.01,"y":-0.02,"n":5},{"e":"Ni","x":-0.01,"y":0.05,"n":5},{"e":"Ni","x":0.0,"y":0.07,"n":5},{"e":"Ni","x":0.0,"y":-0.02,"n":3},
      {"e":"Ni","x":0.01,"y":0.0,"n":5},{"e":"Ni","x":0.01,"y":-0.01,"n":2},{"e":"Ni","x":0.02,"y":0.0,"n":1},{"e":"Ni","x":0.02,"y":-0.03,"n":5},
      {"e":"Ni","x":0.03,"y":0.02,"n":5},{"e":"Ni","x":0.03,"y":-0.01,"n":4},{"e":"Ni","x":0.04,"y":0.02,"n":1},{"e":"Ni","x":0.04,"y":-0.01,"n":5}
    ]
  },
  "data": {"name": "abund"},
  "transform": [
    {"calculate": "indexof(['O','Na','Mg','Al','Si','S','K','Ca','Ti','V','Cr','Mn','Co','Ni'], datum.e)", "as": "panel"},
    {"calculate": "floor(datum.panel / 2)", "as": "prow"},
    {"calculate": "datum.panel % 2", "as": "pcol"}
  ],
  "facet": {
    "row": {"field": "prow", "type": "ordinal", "title": "Δ dex, (DR 17- DR 16)", "header": {"labels": false, "labelPadding": 0, "titlePadding": -7}},
    "column": {"field": "pcol", "type": "ordinal", "title": "DR17 [Fe/H]", "header": {"labels": false, "labelPadding": 0, "titleOrient": "bottom", "titlePadding": -4}}
  },
  "spacing": {"row": 0, "column": 0},
  "bounds": "flush",
  "spec": {
    "width": 506,
    "height": 207,
    "layer": [
      {
        "mark": {"type": "circle", "size": 45, "opacity": 1, "clip": true},
        "encoding": {
          "x": {"field": "x", "type": "quantitative",
                "scale": {"domain": [-0.292, 0.292], "nice": false, "zero": false},
                "axis": {"title": null, "values": [-0.2, -0.1, 0, 0.1, 0.2], "format": ".1f"}},
          "y": {"field": "y", "type": "quantitative",
                "scale": {"domain": [-0.5, 0.5], "nice": false, "zero": false},
                "axis": {"title": null, "values": [-0.4, -0.2, 0, 0.2, 0.4], "format": ".1f"}},
          "color": {"field": "n", "type": "quantitative",
                    "scale": {"scheme": "viridis", "reverse": true, "domain": [1, 5]},
                    "legend": {
                      "orient": "none", "legendX": 1076, "legendY": 219, "direction": "vertical",
                      "gradientLength": 1013, "gradientThickness": 50,
                      "gradientStrokeColor": "#000", "gradientStrokeWidth": 1,
                      "values": [1, 2, 3, 4, 5], "format": "d",
                      "labelExpr": "datum.value >= 5 ? '5+' : datum.label",
                      "labelFontSize": 22, "labelColor": "#222", "labelOffset": 4,
                      "title": "Number of in Cluster", "titleOrient": "right", "titleAnchor": "middle",
                      "titleFontSize": 25, "titleFontWeight": "normal", "titleColor": "#333", "titlePadding": 8,
                      "titleLimit": 2000,
                      "encode": {
                        "title": {"angle": {"value": -90}, "baseline": {"value": "top"}},
                        "labels": {"baseline": {"value": "middle"}}
                      }
                    }}
        }
      },
      {
        "transform": [{"filter": "isValid(datum.lab)"}],
        "mark": {"type": "rule", "color": "#333", "strokeWidth": 1.8, "strokeDash": [6, 2.6]},
        "encoding": {"y": {"datum": 0}}
      },
      {
        "mark": {"type": "rule", "color": "#0000ff", "strokeWidth": 1.9},
        "encoding": {"y": {"field": "med", "type": "quantitative"}}
      },
      {
        "mark": {"type": "rule", "color": "gray", "strokeWidth": 1.5, "clip": true},
        "encoding": {"x": {"field": "xlo", "type": "quantitative"}, "x2": {"field": "xhi"}, "y": {"datum": -0.4}}
      },
      {
        "mark": {"type": "rule", "color": "gray", "strokeWidth": 1.5, "clip": true},
        "encoding": {"x": {"datum": -0.2}, "y": {"field": "ylo", "type": "quantitative"}, "y2": {"field": "yhi"}}
      },
      {
        "transform": [{"filter": "isValid(datum.lab)"}, {"fold": ["xlo", "xhi"], "as": ["end", "v"]}],
        "mark": {"type": "tick", "orient": "vertical", "color": "gray", "size": 12, "thickness": 1.5, "opacity": 1, "clip": true},
        "encoding": {"x": {"field": "v", "type": "quantitative"}, "y": {"datum": -0.4}}
      },
      {
        "transform": [{"filter": "isValid(datum.lab)"}, {"fold": ["ylo", "yhi"], "as": ["end", "v"]}],
        "mark": {"type": "tick", "orient": "horizontal", "color": "gray", "size": 12, "thickness": 1.5, "opacity": 1, "clip": true},
        "encoding": {"y": {"field": "v", "type": "quantitative"}, "x": {"datum": -0.2}}
      },
      {
        "transform": [{"filter": "isValid(datum.lab)"}],
        "mark": {"type": "text", "align": "left", "baseline": "middle", "fontSize": 20, "color": "#222"},
        "encoding": {"x": {"datum": 0.2}, "y": {"datum": 0.37}, "text": {"field": "lab"}}
      },
      {
        "transform": [
          {"filter": "isValid(datum.lab)"},
          {"calculate": "'median offset: ' + replace(format(datum.med, '.3f'), '−', '-') + ' ± ' + format(datum.sd, '.3f')", "as": "medtext"}
        ],
        "mark": {"type": "text", "align": "left", "baseline": "middle", "fontSize": 20, "color": "#222"},
        "encoding": {"x": {"datum": 0.0}, "y": {"datum": -0.375}, "text": {"field": "medtext"}}
      }
    ]
  },
  "config": {
    "font": "Liberation Serif",
    "view": {"stroke": "#000", "strokeWidth": 2},
    "axis": {"grid": true, "gridColor": "#000", "gridWidth": 1.5, "gridOpacity": 1, "ticks": false, "domain": false,
             "minExtent": 0, "labelFont": "Liberation Serif", "labelFontSize": 11, "labelColor": "#333"},
    "axisX": {"gridDash": [9, 189], "labelPadding": 6},
    "axisY": {"gridDash": [9, 488], "labelPadding": 5},
    "header": {"titleFont": "Liberation Serif", "titleFontSize": 25, "titleFontWeight": "normal", "titleColor": "#222"},
    "legend": {"labelFont": "Liberation Serif", "titleFont": "Liberation Serif"}
  }
}
